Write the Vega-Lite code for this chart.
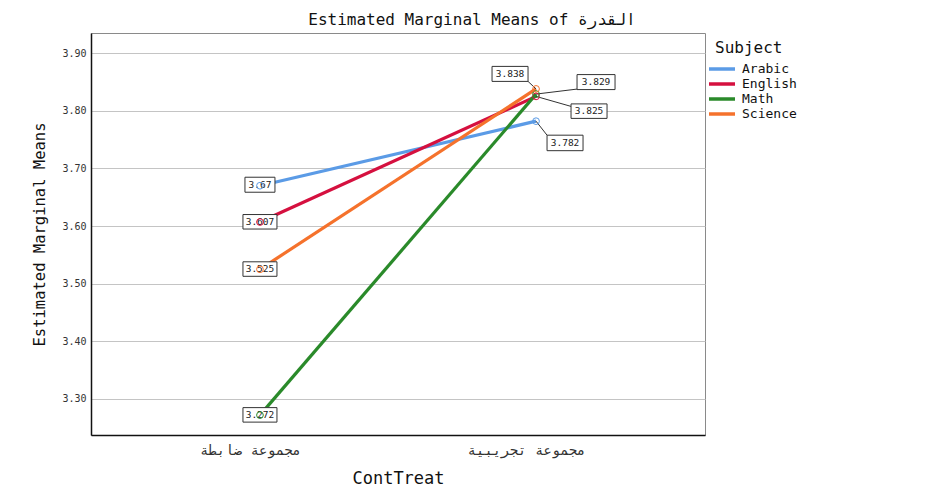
{
  "$schema": "https://vega.github.io/schema/vega-lite/v6.json",
  "autosize": {"type": "none"},
  "width": 614,
  "height": 402,
  "padding": {"left": 91, "top": 33, "right": 224, "bottom": 60},
  "background": "white",
  "title": {
    "text": "Estimated Marginal Means of القدرة",
    "font": "DejaVu Sans Mono",
    "fontSize": 16,
    "fontWeight": "normal",
    "color": "#111",
    "anchor": "middle",
    "offset": 5,
    "dx": 74
  },
  "config": {
    "view": {"stroke": "#8a8a8a", "strokeWidth": 1},
    "axis": {
      "labelFont": "DejaVu Sans Mono",
      "titleFont": "DejaVu Sans Mono",
      "titleFontWeight": "normal",
      "labelColor": "#333",
      "titleColor": "#111",
      "ticks": false,
      "domainColor": "#111",
      "domainWidth": 1.5
    },
    "legend": {
      "labelFont": "DejaVu Sans Mono",
      "titleFont": "DejaVu Sans Mono",
      "titleFontWeight": "normal"
    }
  },
  "data": {
    "values": [
      {"ContTreat": "مجموعة ضابطة", "Subject": "Arabic", "Mean": 3.67},
      {"ContTreat": "مجموعة ضابطة", "Subject": "English", "Mean": 3.607},
      {"ContTreat": "مجموعة ضابطة", "Subject": "Math", "Mean": 3.272},
      {"ContTreat": "مجموعة ضابطة", "Subject": "Science", "Mean": 3.525},
      {"ContTreat": "مجموعة تجريبية", "Subject": "Arabic", "Mean": 3.782},
      {"ContTreat": "مجموعة تجريبية", "Subject": "English", "Mean": 3.825},
      {"ContTreat": "مجموعة تجريبية", "Subject": "Math", "Mean": 3.829},
      {"ContTreat": "مجموعة تجريبية", "Subject": "Science", "Mean": 3.838}
    ]
  },
  "encoding": {
    "x": {
      "field": "ContTreat",
      "type": "nominal",
      "sort": ["مجموعة ضابطة", "مجموعة تجريبية"],
      "scale": {"type": "point", "padding": 0.612},
      "axis": {
        "title": "ContTreat",
        "labelAngle": 0,
        "labelFontSize": 14,
        "labelPadding": 8,
        "labelOffset": -10,
        "titleFontSize": 17,
        "titlePadding": 13,
        "grid": false
      }
    },
    "y": {
      "field": "Mean",
      "type": "quantitative",
      "scale": {"domain": [3.2375, 3.935], "nice": false, "zero": false},
      "axis": {
        "title": "Estimated Marginal Means",
        "values": [3.3, 3.4, 3.5, 3.6, 3.7, 3.8, 3.9],
        "format": ".2f",
        "labelFontSize": 10,
        "labelPadding": 5,
        "titleFontSize": 15.5,
        "titlePadding": 14,
        "grid": true,
        "gridColor": "#c4c4c4",
        "gridWidth": 1
      }
    }
  },
  "layer": [
    {
      "mark": {"type": "line", "strokeWidth": 3.2},
      "encoding": {
        "color": {
          "field": "Subject",
          "type": "nominal",
          "scale": {
            "domain": ["Arabic", "English", "Math", "Science"],
            "range": ["#5b9be6", "#d5103f", "#2a8a2a", "#f5722c"]
          },
          "legend": {
            "title": "Subject",
            "orient": "none",
            "legendX": 624,
            "legendY": 7,
            "symbolType": "M-2.6,0H2.6",
            "symbolSize": 100,
            "symbolStrokeWidth": 3.5,
            "titleFontSize": 16,
            "titleColor": "#111",
            "titleAnchor": "start",
            "labelFontSize": 13,
            "labelColor": "#111",
            "labelOffset": 13,
            "titlePadding": 6,
            "rowPadding": 1,
            "padding": 0
          }
        }
      }
    },
    {
      "transform": [{"filter": "datum.ContTreat === 'مجموعة ضابطة' && datum.Subject !== 'Arabic'"}],
      "mark": {"type": "rect", "fill": "white", "stroke": "#333", "strokeWidth": 1, "xOffset": -17, "x2Offset": 17, "yOffset": -7.5, "y2Offset": 7},
      "encoding": {"x2": {"field": "ContTreat"}, "y2": {"field": "Mean"}}
    },
    {
      "transform": [{"filter": "datum.ContTreat === 'مجموعة ضابطة' && datum.Subject === 'Arabic'"}],
      "mark": {"type": "rect", "fill": "white", "stroke": "#333", "strokeWidth": 1, "xOffset": -15, "x2Offset": 15, "yOffset": -8.5, "y2Offset": 6.5},
      "encoding": {"x2": {"field": "ContTreat"}, "y2": {"field": "Mean"}}
    },
    {
      "transform": [{"filter": "datum.ContTreat === 'مجموعة ضابطة' && datum.Subject !== 'Arabic'"}],
      "mark": {"type": "text", "font": "DejaVu Sans Mono", "fontSize": 9.5, "color": "#222", "align": "center", "baseline": "middle", "dy": 0},
      "encoding": {"text": {"field": "Mean", "type": "quantitative", "format": ".3~f"}}
    },
    {
      "transform": [{"filter": "datum.ContTreat === 'مجموعة ضابطة' && datum.Subject === 'Arabic'"}],
      "mark": {"type": "text", "font": "DejaVu Sans Mono", "fontSize": 9.5, "color": "#222", "align": "center", "baseline": "middle", "dy": -1},
      "encoding": {"text": {"field": "Mean", "type": "quantitative", "format": ".3~f"}}
    },
    {
      "transform": [{"filter": "datum.ContTreat === 'مجموعة تجريبية' && datum.Subject === 'Science'"}],
      "mark": {"type": "rule", "color": "#333", "strokeWidth": 1, "x2Offset": -8, "y2Offset": -7.5},
      "encoding": {"x2": {"field": "ContTreat"}, "y2": {"field": "Mean"}}
    },
    {
      "transform": [{"filter": "datum.ContTreat === 'مجموعة تجريبية' && datum.Subject === 'Math'"}],
      "mark": {"type": "rule", "color": "#333", "strokeWidth": 1, "x2Offset": 41, "y2Offset": -5},
      "encoding": {"x2": {"field": "ContTreat"}, "y2": {"field": "Mean"}}
    },
    {
      "transform": [{"filter": "datum.ContTreat === 'مجموعة تجريبية' && datum.Subject === 'English'"}],
      "mark": {"type": "rule", "color": "#333", "strokeWidth": 1, "x2Offset": 35, "y2Offset": 10},
      "encoding": {"x2": {"field": "ContTreat"}, "y2": {"field": "Mean"}}
    },
    {
      "transform": [{"filter": "datum.ContTreat === 'مجموعة تجريبية' && datum.Subject === 'Arabic'"}],
      "mark": {"type": "rule", "color": "#333", "strokeWidth": 1, "x2Offset": 11, "y2Offset": 14},
      "encoding": {"x2": {"field": "ContTreat"}, "y2": {"field": "Mean"}}
    },
    {
      "transform": [{"filter": "datum.ContTreat === 'مجموعة تجريبية' && datum.Subject === 'Science'"}],
      "mark": {"type": "rect", "fill": "white", "stroke": "#333", "strokeWidth": 1, "xOffset": -44, "x2Offset": -8, "yOffset": -22.5, "y2Offset": -7.5},
      "encoding": {"x2": {"field": "ContTreat"}, "y2": {"field": "Mean"}}
    },
    {
      "transform": [{"filter": "datum.ContTreat === 'مجموعة تجريبية' && datum.Subject === 'Math'"}],
      "mark": {"type": "rect", "fill": "white", "stroke": "#333", "strokeWidth": 1, "xOffset": 41, "x2Offset": 79, "yOffset": -19.5, "y2Offset": -4.5},
      "encoding": {"x2": {"field": "ContTreat"}, "y2": {"field": "Mean"}}
    },
    {
      "transform": [{"filter": "datum.ContTreat === 'مجموعة تجريبية' && datum.Subject === 'English'"}],
      "mark": {"type": "rect", "fill": "white", "stroke": "#333", "strokeWidth": 1, "xOffset": 35, "x2Offset": 71, "yOffset": 7.5, "y2Offset": 22},
      "encoding": {"x2": {"field": "ContTreat"}, "y2": {"field": "Mean"}}
    },
    {
      "transform": [{"filter": "datum.ContTreat === 'مجموعة تجريبية' && datum.Subject === 'Arabic'"}],
      "mark": {"type": "rect", "fill": "white", "stroke": "#333", "strokeWidth": 1, "xOffset": 11, "x2Offset": 47, "yOffset": 14, "y2Offset": 29.5},
      "encoding": {"x2": {"field": "ContTreat"}, "y2": {"field": "Mean"}}
    },
    {
      "transform": [{"filter": "datum.ContTreat === 'مجموعة تجريبية' && datum.Subject === 'Science'"}],
      "mark": {"type": "text", "font": "DejaVu Sans Mono", "fontSize": 9.5, "color": "#222", "align": "center", "baseline": "middle", "dx": -26, "dy": -15},
      "encoding": {"text": {"field": "Mean", "type": "quantitative", "format": ".3~f"}}
    },
    {
      "transform": [{"filter": "datum.ContTreat === 'مجموعة تجريبية' && datum.Subject === 'Math'"}],
      "mark": {"type": "text", "font": "DejaVu Sans Mono", "fontSize": 9.5, "color": "#222", "align": "center", "baseline": "middle", "dx": 60, "dy": -12},
      "encoding": {"text": {"field": "Mean", "type": "quantitative", "format": ".3~f"}}
    },
    {
      "transform": [{"filter": "datum.ContTreat === 'مجموعة تجريبية' && datum.Subject === 'English'"}],
      "mark": {"type": "text", "font": "DejaVu Sans Mono", "fontSize": 9.5, "color": "#222", "align": "center", "baseline": "middle", "dx": 53, "dy": 14.7},
      "encoding": {"text": {"field": "Mean", "type": "quantitative", "format": ".3~f"}}
    },
    {
      "transform": [{"filter": "datum.ContTreat === 'مجموعة تجريبية' && datum.Subject === 'Arabic'"}],
      "mark": {"type": "text", "font": "DejaVu Sans Mono", "fontSize": 9.5, "color": "#222", "align": "center", "baseline": "middle", "dx": 29, "dy": 21.7},
      "encoding": {"text": {"field": "Mean", "type": "quantitative", "format": ".3~f"}}
    },
    {
      "mark": {"type": "point", "filled": false, "size": 45, "strokeWidth": 1, "opacity": 1},
      "encoding": {
        "color": {"field": "Subject", "type": "nominal"}
      }
    }
  ]
}
